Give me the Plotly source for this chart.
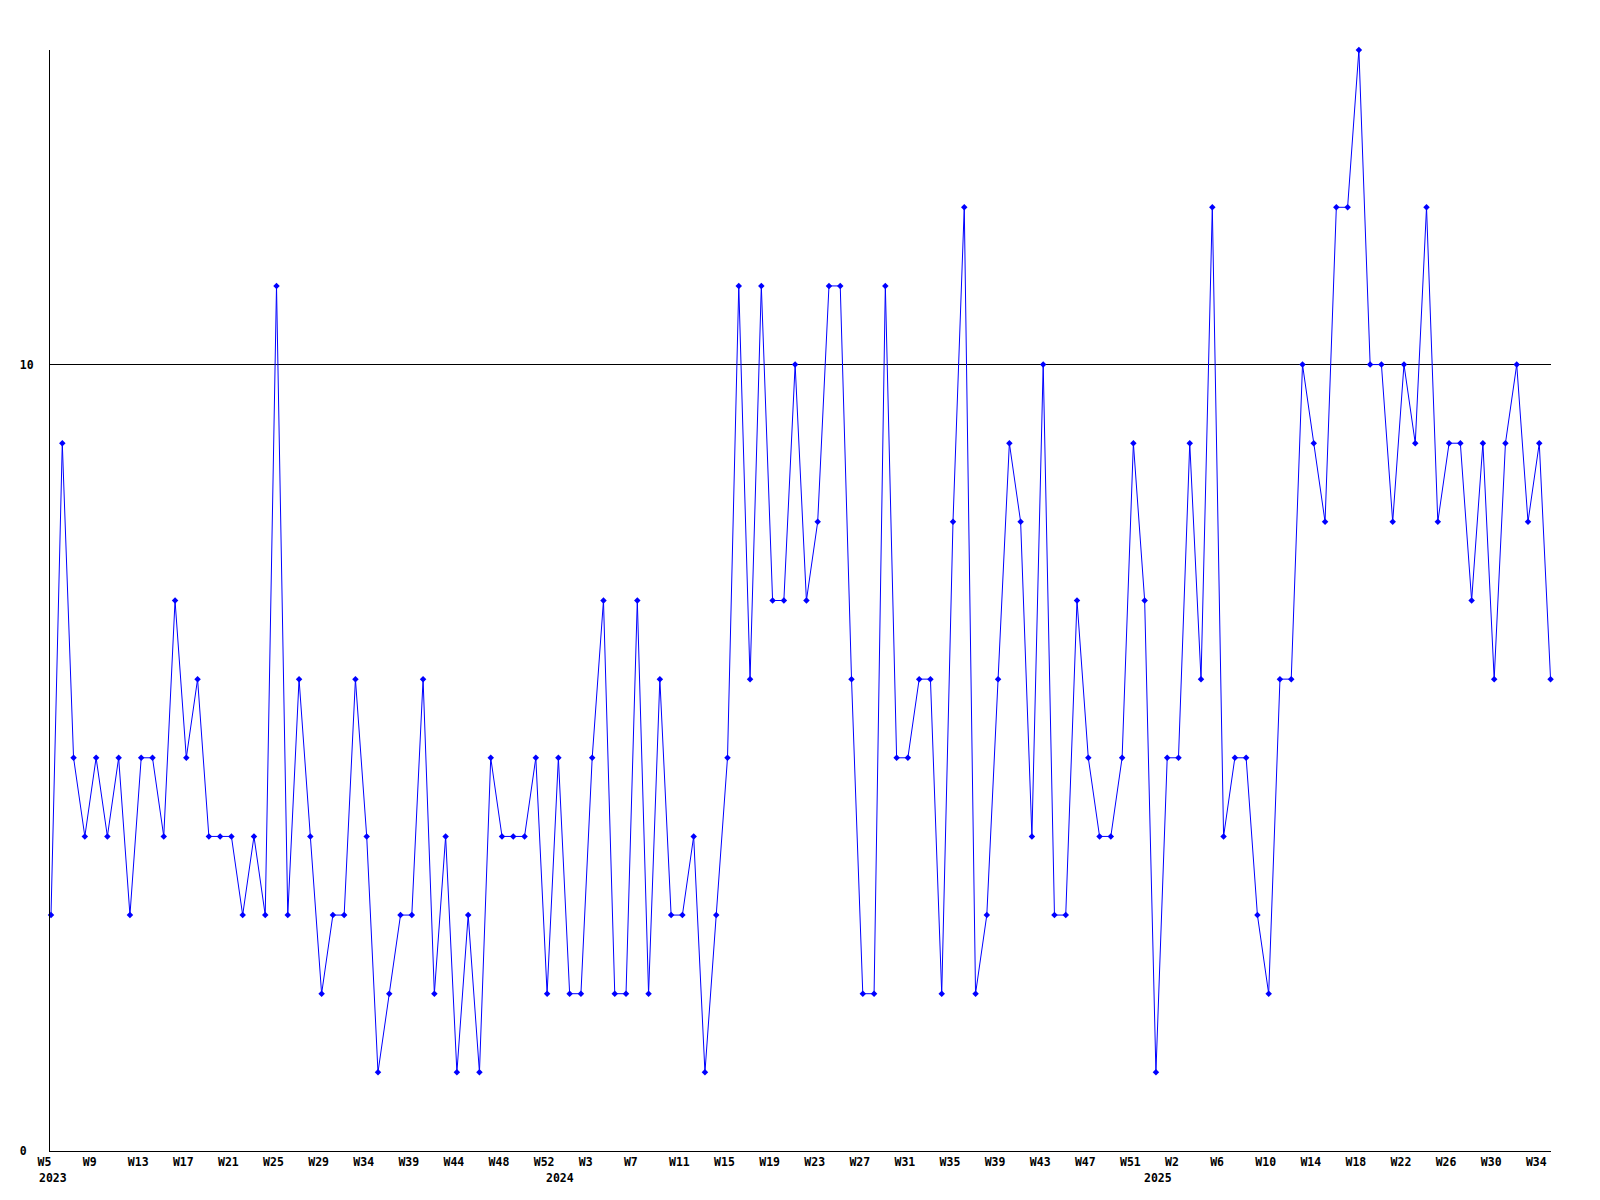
import plotly.graph_objects as go

# Weekly counts (one value per week)
values = [3, 9, 5, 4, 5, 4, 5, 3, 5, 5,
          4, 7, 5, 6, 4, 4, 4, 3, 4, 3,
          11, 3, 6, 4, 2, 3, 3, 6, 4, 1,
          2, 3, 3, 6, 2, 4, 1, 3, 1, 5,
          4, 4, 4, 5, 2, 5, 2, 2, 5, 7,
          2, 2, 7, 2, 6, 3, 3, 4, 1, 3,
          5, 11, 6, 11, 7, 7, 10, 7, 8, 11,
          11, 6, 2, 2, 11, 5, 5, 6, 6, 2,
          8, 12, 2, 3, 6, 9, 8, 4, 10, 3,
          3, 7, 5, 4, 4, 5, 9, 7, 1, 5,
          5, 9, 6, 12, 4, 5, 5, 3, 2, 6,
          6, 10, 9, 8, 12, 12, 14, 10, 10, 8,
          10, 9, 12, 8, 9, 9, 7, 9, 6, 9,
          10, 8, 9, 6]

week_labels = ["W5", "W9", "W13", "W17", "W21", "W25", "W29", "W34", "W39", "W44",
               "W48", "W52", "W3", "W7", "W11", "W15", "W19", "W23", "W27", "W31",
               "W35", "W39", "W43", "W47", "W51", "W2", "W6", "W10", "W14", "W18",
               "W22", "W26", "W30", "W34"]
label_step = 4

year_labels = ["2023", "2024", "2025"]
year_start_index = [0, 45, 98]

y_tick_values = [0, 10]

x = list(range(len(values)))
tickvals = list(range(0, len(values), label_step))[:len(week_labels)]
# pad to equal width so the centred monospace labels line up like left-aligned ones
ticktext = [w.ljust(3, "\u00a0") for w in week_labels]

FONT = dict(family="DejaVu Sans Mono", size=11.5, color="black")

fig = go.Figure()
fig.add_trace(go.Scatter(
    x=x, y=values, mode="lines+markers",
    line=dict(color="#0000ff", width=1),
    marker=dict(symbol="diamond", size=5, color="#0000ff"),
    cliponaxis=False,
    hoverinfo="x+y",
))

for txt, idx in zip(year_labels, year_start_index):
    fig.add_annotation(
        x=idx, xref="x", y=0, yref="paper",
        text="<b>" + txt + "</b>", showarrow=False,
        xanchor="left", yanchor="top", xshift=-14, yshift=-18,
        font=FONT,
    )

# the page body has an 8px margin, so the figure is offset by 8px
fig.update_layout(
    width=1584, height=1184,
    margin=dict(l=42, r=41, t=42, b=41),
    paper_bgcolor="white", plot_bgcolor="white",
    showlegend=False,
    font=FONT,
)

fig.update_xaxes(
    range=[-0.09, 133.04],
    tickmode="array", tickvals=tickvals,
    ticktext=["<b>" + t + "</b>" for t in ticktext],
    tickangle=0,
    ticks="", showgrid=False, zeroline=False,
    showline=True, linecolor="black", linewidth=1,
    ticklabelshift=-3,
    ticklabelstandoff=0,
    tickfont=FONT,
    automargin=False,
)
fig.update_yaxes(
    range=[0, 14],
    tickmode="array", tickvals=y_tick_values,
    ticktext=["<b>" + str(v).ljust(2, "\u00a0") + "</b>" for v in y_tick_values],
    ticks="", showgrid=True, gridcolor="black", gridwidth=1,
    zeroline=False,
    showline=True, linecolor="black", linewidth=1,
    ticklabelstandoff=13,
    tickfont=FONT,
    automargin=False,
)

fig.write_html("out.html")
